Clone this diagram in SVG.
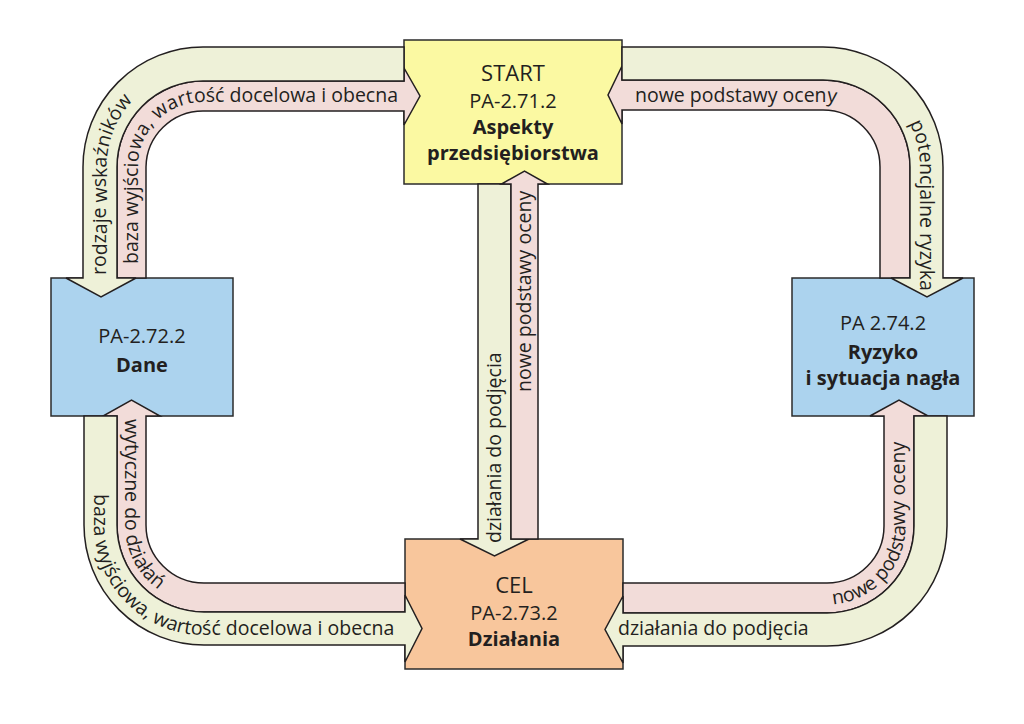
<svg xmlns="http://www.w3.org/2000/svg" width="1024" height="724" viewBox="0 0 1024 724">
<style>
.box{stroke:#2b2b2b;stroke-width:1.5}
.g{fill:#eef1d8;stroke:#231f20;stroke-width:1.5;stroke-linejoin:miter}
.p{fill:#f2dcd9;stroke:#231f20;stroke-width:1.5;stroke-linejoin:miter}
.nt{font-family:"Open Sans","Noto Sans",sans-serif;font-size:20px;fill:#231f20;text-anchor:middle}
.b{font-weight:bold}
.big{font-size:22px}
.lbl{font-family:"Open Sans","Noto Sans",sans-serif;font-size:19.5px;fill:#231f20}
</style>
<defs>
<path id="tp-tl-p" d="M138,278 V167 A65,65 0 0 1 203,102 H404"/>
<path id="tp-tl-g" d="M106.5,278 V167 A96.5,96.5 0 0 1 203,70.5 H404"/>
<path id="tp-tr-p" d="M622,101.5 H823 A65.5,65.5 0 0 1 888.5,167 V278"/>
<path id="tp-tr-g" d="M622,70.5 H823 A97,97 0 0 1 920,167 V300"/>
<path id="tp-bl-p" d="M125,416 V525 A79,79 0 0 0 204,604 H405"/>
<path id="tp-bl-g" d="M94,416 V525 A110,110 0 0 0 204,635 H405"/>
<path id="tp-br-p" d="M623,604.5 H827 A78.5,78.5 0 0 0 905.5,526 V416"/>
</defs>
<rect width="1024" height="724" fill="#ffffff"/>

<g id="node-start">
<rect class="box" x="404" y="40" width="218" height="144" fill="#fbf9a2"/>
<text class="nt big" x="513" y="81">START</text>
<text class="nt" x="513" y="108">PA-2.71.2</text>
<text class="nt b" x="513" y="134">Aspekty</text>
<text class="nt b" x="513" y="160">przedsiębiorstwa</text>
</g>
<g id="node-dane">
<rect class="box" x="51" y="278" width="182" height="138" fill="#acd3ee"/>
<text class="nt" x="142" y="343">PA-2.72.2</text>
<text class="nt b" x="142" y="372">Dane</text>
</g>
<g id="node-ryzyko">
<rect class="box" x="792" y="278" width="182" height="138" fill="#acd3ee"/>
<text class="nt" x="883" y="330">PA 2.74.2</text>
<text class="nt b" x="883" y="359">Ryzyko</text>
<text class="nt b" x="883" y="385">i sytuacja nagła</text>
</g>
<g id="node-cel">
<rect class="box" x="405" y="539" width="218" height="130" fill="#f8c69c"/>
<text class="nt big" x="514" y="593">CEL</text>
<text class="nt" x="514" y="620">PA-2.73.2</text>
<text class="nt b" x="514" y="646">Działania</text>
</g>

<g id="connectors">
<!-- top-left -->
<path class="p" d="M117,278 V167 A86,86 0 0 1 203,81 H404 V68 L420,96 L404,125 V111 H203 A57,57 0 0 0 146,167 V278 Z"/>
<path class="g" d="M404,47 H203 A120,120 0 0 0 83,167 V278 H66 L101,297 L136,278 H117 V167 A86,86 0 0 1 203,81 H404 Z"/>
<!-- top-right -->
<path class="p" d="M880,278 V167 A57,57 0 0 0 823,110 H622 V124 L608,95 L622,66 V80 H823 A87,87 0 0 1 910,167 V278 Z"/>
<path class="g" d="M622,47 H823 A120,120 0 0 1 943,167 V278 H963 L927,297 L891,278 H910 V167 A87,87 0 0 0 823,80 H622 Z"/>
<!-- bottom-left -->
<path class="p" d="M405,583 H204 A58,58 0 0 1 146,525 V416 H160 L131.5,400 L103,416 H117 V525 A87,87 0 0 0 204,612 H405 Z"/>
<path class="g" d="M84,416 V525 A120,120 0 0 0 204,645 H405 V662 L422,628.5 L405,595 V612 H204 A87,87 0 0 1 117,525 V416 Z"/>
<!-- bottom-right -->
<path class="p" d="M623,583 H827 A57,57 0 0 0 884,526 V416 H870 L899,400 L928,416 H914 V526 A87,87 0 0 1 827,613 H623 Z"/>
<path class="g" d="M947,416 V526 A120,120 0 0 1 827,646 H623 V663 L605,629.5 L623,596 V613 H827 A87,87 0 0 0 914,526 V416 Z"/>
<!-- center -->
<path class="g" d="M478,184 V539 H460 L494.5,556 L529,539 H511 V184 Z"/>
<path class="p" d="M511,539 V184 H501.5 L524.5,171 L547.5,184 H538 V539 Z"/>

<!-- labels -->
<text class="lbl"><textPath href="#tp-tl-p" startOffset="14">baza wyjściowa, wartość docelowa i obecna</textPath></text>
<text class="lbl"><textPath href="#tp-tl-g" startOffset="3">rodzaje wskaźników</textPath></text>
<text class="lbl"><textPath href="#tp-tr-p" startOffset="13">nowe podstawy oceny</textPath></text>
<text class="lbl"><textPath href="#tp-tr-g" startOffset="307">potencjalne ryzyka</textPath></text>
<text class="lbl"><textPath href="#tp-bl-p" startOffset="3">wytyczne do działań</textPath></text>
<text class="lbl"><textPath href="#tp-bl-g" startOffset="78">baza wyjściowa, wartość docelowa i obecna</textPath></text>
<text class="lbl"><textPath href="#tp-br-p" startOffset="210">nowe podstawy oceny</textPath></text>
<text class="lbl" x="618" y="635">działania do podjęcia</text>
<text class="lbl" transform="translate(501,543) rotate(-90)">działania do podjęcia</text>
<text class="lbl" transform="translate(531,392) rotate(-90)">nowe podstawy oceny</text>
</g>
</svg>
